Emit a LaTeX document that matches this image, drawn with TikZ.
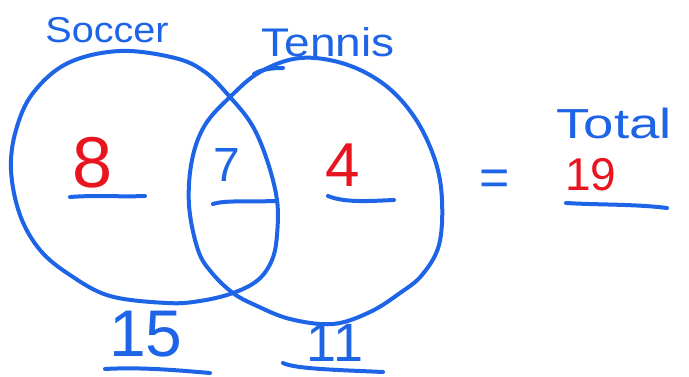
\documentclass[tikz,border=0pt]{standalone}
\usepackage{fontspec}
\setmainfont{Liberation Sans}
\definecolor{penblue}{HTML}{1E64E6}
\definecolor{penred}{HTML}{E8141E}
\begin{document}
\begin{tikzpicture}[x=1pt,y=-1pt,
  ink/.style={draw=penblue,line width=4pt,line cap=round,line join=round},
  uline/.style={draw=penblue,line width=4pt,line cap=round},
  bluetxt/.style={text=penblue,inner sep=0pt},
  redtxt/.style={text=penred,inner sep=0pt}]
\useasboundingbox[fill=white] (0,0) rectangle (689,376);

% Soccer circle
\draw[ink] plot[smooth cycle,tension=0.6] coordinates {
 (120,51) (175,58) (205,72) (230,97) (252,125) (267,160) (277,200)
 (277,235) (272,260) (258,280) (233,293) (200,301) (167,303) (110,296)
 (70,275) (40,250) (20,215) (11,170) (16,130) (33,93) (68,63)};
% Tennis circle
\draw[ink] plot[smooth cycle,tension=0.6] coordinates {
 (300,58) (345,64) (385,85) (415,118) (435,160) (442,200) (439,245)
 (422,275) (400,293) (370,312) (333,324) (290,319) (255,305) (233,293)
 (212,273) (198,250) (189,205) (192,160) (205,125) (230,97) (260,72)};
\draw[ink] (254,74) .. controls (262,69) and (272,68) .. (283,68);

% labels
\node[bluetxt,font=\fontsize{36}{36}\selectfont,xscale=1.1] (soccer) at (107,30) {Soccer};
\node[bluetxt,font=\fontsize{40}{40}\selectfont,xscale=1.15] (tennis) at (328,42) {Tennis};
\node[bluetxt,font=\fontsize{42}{42}\selectfont,xscale=1.3] (total) at (614,123) {Total};

% region numbers
\node[redtxt,font=\fontsize{72}{72}\selectfont] (n8) at (93,163) {8};
\node[bluetxt,font=\fontsize{48}{48}\selectfont] (n7) at (227,165) {7};
\node[redtxt,font=\fontsize{62}{62}\selectfont] (n4) at (343,165) {4};
\node[bluetxt,font=\fontsize{52}{52}\selectfont] (eq) at (495,183) {=};
\node[redtxt,font=\fontsize{46}{46}\selectfont] (n19) at (591,175) {19};
\node[bluetxt,font=\fontsize{66}{66}\selectfont] (n15) at (146,334) {15};
\node[bluetxt,font=\fontsize{54}{54}\selectfont] (n11) at (335,343) {11};

% underlines
\coordinate (u8a) at (70,197); \coordinate (u8b) at (145,196);
\draw[uline] (u8a) .. controls (95,195) and (120,197) .. (u8b);
\coordinate (u7a) at (213,204); \coordinate (u7b) at (275,201);
\draw[uline] (u7a) .. controls (225,200) and (250,202) .. (u7b);
\coordinate (u4a) at (328,196); \coordinate (u4b) at (394,200);
\draw[uline] (u4a) .. controls (345,203) and (370,201) .. (u4b);
\coordinate (u19a) at (566,203); \coordinate (u19b) at (667,208);
\draw[uline] (u19a) .. controls (600,205) and (635,204) .. (u19b);
\coordinate (u15a) at (105,369); \coordinate (u15b) at (210,373);
\draw[uline] (u15a) .. controls (140,367) and (175,370) .. (u15b);
\coordinate (u11a) at (283,363); \coordinate (u11b) at (383,372);
\draw[uline] (u11a) .. controls (295,369) and (340,370) .. (u11b);
\end{tikzpicture}
\end{document}
